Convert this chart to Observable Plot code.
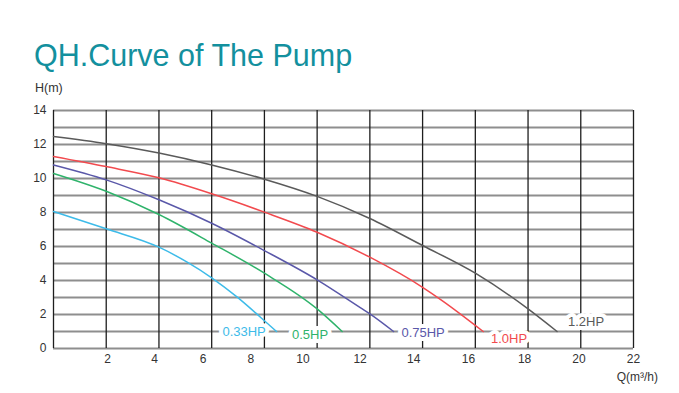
<!DOCTYPE html>
<html><head><meta charset="utf-8">
<script src="https://cdn.jsdelivr.net/npm/d3@7"></script>
<script src="https://cdn.jsdelivr.net/npm/@observablehq/plot@0.6"></script>
<style>
body{margin:0;background:#fff;font-family:"Liberation Sans",Arial,sans-serif;}
#wrap{position:relative;width:679px;height:393px;}
#wrap svg{position:absolute;left:0;top:0;}
.t{position:absolute;white-space:nowrap;z-index:2;line-height:1;}
#title{left:34px;top:40px;font-size:30.5px;color:#13909e;line-height:31px;}
#hlab{left:35px;top:82px;font-size:12.5px;color:#333;}
#qlab{right:21px;top:371px;font-size:12px;color:#333;}
</style></head>
<body>
<div id="wrap">
  <div class="t" id="title">QH.Curve of The Pump</div>
  <div class="t" id="hlab">H(m)</div>
  <div class="t" id="qlab">Q(m³/h)</div>
</div>
<script>
// Series
const seriesNames = ["0.33HP", "0.5HP", "0.75HP", "1.0HP", "1.2HP"];
const seriesColors = ["#3dbbe9", "#2fb36b", "#5a58a9", "#f24a4e", "#5a5a5a"];

// Curve points (Q m³/h, H m)
const q033 = [0, 2, 4, 5.07, 6, 6.97, 7.85, 8.46];
const h033 = [8.06, 7.04, 5.96, 5.08, 4.16, 3.02, 1.84, 1.0];
const q05 = [0, 2, 4, 6, 8, 10, 10.95];
const h05 = [10.3, 9.25, 7.88, 6.2, 4.43, 2.33, 1.0];
const q075 = [0, 2, 4, 6, 8, 10, 11.65, 12, 12.9];
const h075 = [10.8, 9.92, 8.75, 7.37, 5.76, 4.04, 2.39, 2.04, 1.0];
const q10 = [0, 2, 4, 6, 8, 10, 12, 14, 14.74, 16.3];
const h10 = [11.3, 10.7, 10.04, 9.1, 8.02, 6.84, 5.37, 3.6, 2.82, 1.0];
const q12 = [0, 2, 4, 6, 8, 10, 12, 14, 16, 18, 19.1];
const h12 = [12.47, 12.05, 11.5, 10.8, 9.96, 8.95, 7.65, 6.06, 4.43, 2.33, 1.0];

// Series label positions (Q, H)
const labelQ = [7.23, 9.73, 14.02, 17.28, 20.2];
const labelH = [0.96, 0.79, 0.94, 0.56, 1.55];

// Axis ticks
const yTicks = [0, 2, 4, 6, 8, 10, 12, 14];
const xTickLabels = ["2", "4", "6", "8", "10", "12", "14", "16", "18", "20", "22"];
const xTickPos = [2.05, 3.83, 5.67, 7.49, 9.46, 11.63, 13.66, 15.74, 17.87, 19.93, 22.0];
const hGrid = [0, 1, 2, 3, 4, 5, 6, 7, 8, 9, 10, 11, 12, 13, 14];
const vGrid = [0, 2, 4, 6, 8, 10, 12, 14, 16, 18, 20, 22];

const qs = [q033, q05, q075, q10, q12];
const hs = [h033, h05, h075, h10, h12];
const curves = seriesNames.flatMap((s, i) => qs[i].map((q, j) => ({series: s, q, h: hs[i][j]})));
const labels = seriesNames.map((s, i) => ({series: s, q: labelQ[i], h: labelH[i]}));
const colorOf = new Map(seriesNames.map((s, i) => [s, seriesColors[i]]));
const xLab = new Map(xTickPos.map((p, i) => [p, xTickLabels[i]]));

const plot = Plot.plot({
  width: 679,
  height: 393,
  marginTop: 110,
  marginBottom: 45,
  marginLeft: 53,
  marginRight: 46,
  x: {domain: [0, 22]},
  y: {domain: [0, 14]},
  style: {fontFamily: "'Liberation Sans', Arial, sans-serif", fontSize: "12px", color: "#333", background: "transparent"},
  marks: [
    Plot.ruleY(hGrid, {stroke: "#8e8e8e", strokeWidth: 2}),
    Plot.ruleX(vGrid, {stroke: "#1e1e1e", strokeWidth: 1.3}),
    Plot.line(curves, {x: "q", y: "h", z: "series", stroke: d => colorOf.get(d.series), strokeWidth: 1.5, curve: "monotone-x"}),
    Plot.text(labels, {x: "q", y: "h", text: "series", fill: d => colorOf.get(d.series), stroke: "white", strokeWidth: 8, paintOrder: "stroke", fontSize: 13, letterSpacing: 0.4}),
    Plot.axisY(yTicks, {tickSize: 0, tickPadding: 7, label: null, fontSize: 12}),
    Plot.axisX(xTickPos, {tickSize: 0, tickPadding: 6, label: null, fontSize: 12, tickFormat: d => xLab.get(d)})
  ]
});
document.getElementById("wrap").appendChild(plot);
</script>
</body></html>
